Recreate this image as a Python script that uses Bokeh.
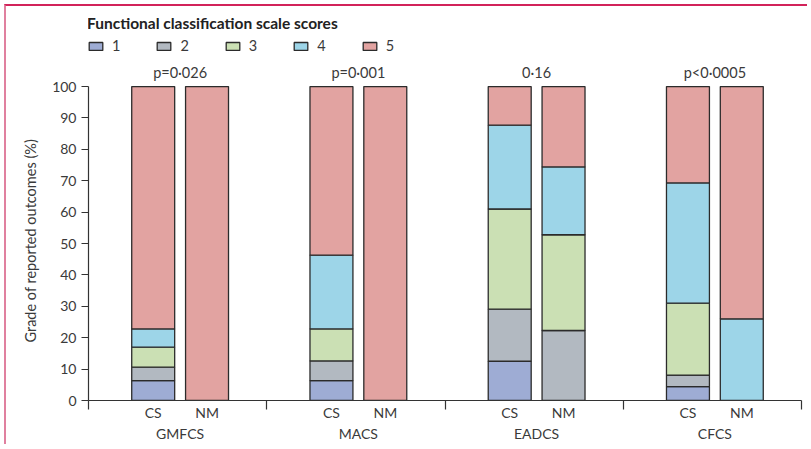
from bokeh.plotting import figure
from bokeh.layouts import column
from bokeh.models import (Range1d, FixedTicker, LinearAxis, Legend, LegendItem,
                          Label, Title, ColumnDataSource)
from bokeh.embed import file_html
from bokeh.resources import INLINE

# ---- data ----
groups = ["GMFCS", "MACS", "EADCS", "CFCS"]
p_values = ["p=0·026", "p=0·001", "0·16", "p<0·0005"]
methods = ["CS", "NM"]
scores = ["1", "2", "3", "4", "5"]
# percentage of each score per bar, order: GMFCS CS, GMFCS NM, MACS CS, MACS NM, EADCS CS, EADCS NM, CFCS CS, CFCS NM
score_1 = [6.3, 0.0, 6.3, 0.0, 12.5, 0.0, 4.4, 0.0]
score_2 = [4.3, 0.0, 6.3, 0.0, 16.6, 22.3, 3.7, 0.0]
score_3 = [6.4, 0.0, 10.2, 0.0, 31.9, 30.5, 22.9, 0.0]
score_4 = [5.8, 0.0, 23.5, 0.0, 26.7, 21.6, 38.3, 26.0]
score_5 = [77.2, 100.0, 53.7, 100.0, 12.3, 25.6, 30.7, 74.0]
y_ticks = [0, 10, 20, 30, 40, 50, 60, 70, 80, 90, 100]

# ---- style ----
colors = ["#9eacd4", "#b2b9c1", "#cbe0b4", "#9dd5e8", "#e2a3a1"]
method_offset = {"CS": 0.363, "NM": 0.665}
bar_width = 0.241
text_color = "#3a3a3a"
font = "Lato"

bar_x = []
bar_labels = []
for gi, g in enumerate(groups):
    for m in methods:
        bar_x.append(round(gi + method_offset[m], 4))
        bar_labels.append(m)
group_centers = [round(gi + (method_offset["CS"] + method_offset["NM"]) / 2, 4)
                 for gi in range(len(groups))]

source = ColumnDataSource(dict(x=bar_x, s1=score_1, s2=score_2, s3=score_3,
                               s4=score_4, s5=score_5))

p = figure(width=801, height=438, output_backend="svg", toolbar_location=None,
           x_range=Range1d(0, len(groups)), y_range=Range1d(0, 123.9),
           min_border_left=82, min_border_right=6, min_border_top=5,
           min_border_bottom=44)
p.grid.visible = False
p.outline_line_color = None
p.background_fill_color = "white"
p.border_fill_color = "white"

renderers = p.vbar_stack(["s1", "s2", "s3", "s4", "s5"], x="x", width=bar_width,
                         fill_color=colors, line_color="#2b2b2b", line_width=1.3,
                         source=source)

# y axis
ya = p.yaxis[0]
ya.ticker = FixedTicker(ticks=y_ticks)
ya.bounds = (0, 100)
ya.major_tick_out = 7
ya.major_tick_in = 0
ya.minor_tick_line_color = None
ya.axis_line_color = "#333333"
ya.axis_line_width = 1.2
ya.major_tick_line_color = "#333333"
ya.major_tick_line_width = 1.2
ya.major_label_text_font = font
ya.major_label_text_font_size = "14px"
ya.major_label_text_color = text_color
ya.major_label_standoff = 5

# y axis title, centred on the 0-100 span
ytitle = Title(text="Grade of reported outcomes (%)", align="left", offset=58,
               vertical_align="bottom", standoff=22, text_font=font,
               text_font_size="14.5px", text_font_style="normal",
               text_color=text_color)
p.add_layout(ytitle, "left")

# x axis with CS / NM labels and group separator ticks
xa = p.xaxis[0]
xa.ticker = FixedTicker(ticks=bar_x, minor_ticks=list(range(len(groups) + 1)))
xa.major_label_overrides = {x: l for x, l in zip(bar_x, bar_labels)}
xa.major_tick_out = 0
xa.major_tick_in = 0
xa.major_tick_line_color = None
xa.minor_tick_out = 9
xa.minor_tick_in = 0
xa.minor_tick_line_color = "#333333"
xa.minor_tick_line_width = 1.2
xa.axis_line_color = "#333333"
xa.axis_line_width = 1.2
xa.major_label_text_font = font
xa.major_label_text_font_size = "14px"
xa.major_label_text_color = text_color
xa.major_label_standoff = -6

ga = LinearAxis(ticker=FixedTicker(ticks=group_centers, minor_ticks=[]),
                major_label_overrides={x: g for x, g in zip(group_centers, groups)})
ga.axis_line_color = None
ga.major_tick_line_color = None
ga.minor_tick_line_color = None
ga.major_tick_out = 0
ga.major_tick_in = 0
ga.major_label_text_font = font
ga.major_label_text_font_size = "14px"
ga.major_label_text_color = text_color
ga.major_label_standoff = 1
p.add_layout(ga, "below")

# p-values above the bars
for gc, pv in zip(group_centers, p_values):
    p.add_layout(Label(x=gc, y=104.6, text=pv, text_align="center",
                       text_baseline="middle", text_font=font,
                       text_font_size="14.5px", text_color=text_color))

legend = Legend(items=[LegendItem(label=s, renderers=[r]) for s, r in zip(scores, renderers)],
                orientation="horizontal", location=(-1, 346),
                title="Functional classification scale scores",
                title_text_font=font, title_text_font_style="bold",
                title_text_font_size="15.5px", title_text_color="#222222",
                title_standoff=5,
                label_text_font=font, label_text_font_size="14.5px",
                label_text_color=text_color,
                glyph_width=17, glyph_height=10, label_standoff=8,
                label_width=0, label_height=10, spacing=35,
                padding=0, margin=0, border_line_color=None,
                background_fill_alpha=0)
p.add_layout(legend, "center")

layout = column(p, styles={"border-top": "2px solid #d2235a",
                           "border-left": "2px solid #e0809f",
                           "margin-left": "4px", "margin-top": "4px"})

open("out.html", "w").write(file_html(layout, INLINE))
